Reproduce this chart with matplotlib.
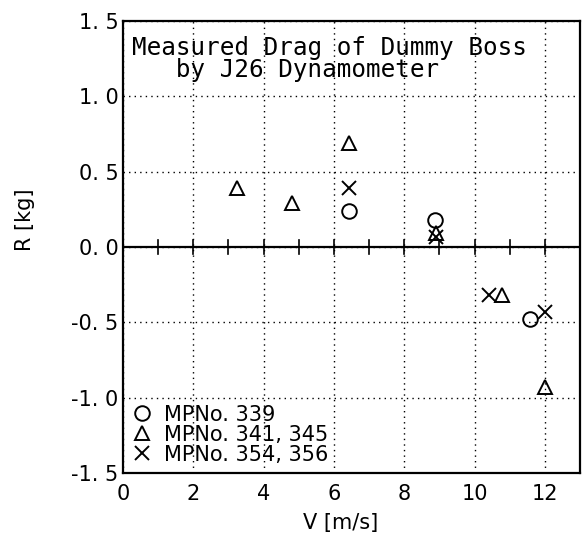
import numpy as np
import matplotlib
matplotlib.use("Agg")
import matplotlib.pyplot as plt

plt.rcParams['font.family'] = ['DejaVu Sans']

# MPNo. 339
v_339 = [6.43, 8.86, 11.57]
r_339 = [0.24, 0.18, -0.48]
# MPNo. 341, 345
v_341 = [3.25, 4.80, 6.43, 8.90, 10.77, 12.00]
r_341 = [0.39, 0.29, 0.69, 0.09, -0.32, -0.93]
# MPNo. 354, 356
v_354 = [6.43, 8.90, 10.40, 12.00]
r_354 = [0.39, 0.07, -0.32, -0.43]

xticks = [0, 2, 4, 6, 8, 10, 12]
yticks = [-1.5, -1.0, -0.5, 0.0, 0.5, 1.0, 1.5]
ylabels = ["-1. 5", "-1. 0", "-0. 5", "0. 0", "0. 5", "1. 0", "1. 5"]

fig = plt.figure(figsize=(5.82, 5.40), dpi=100)
ax = fig.add_axes([0.211, 0.124, 0.786, 0.837])

ax.set_xlim(0, 13)
ax.set_ylim(-1.5, 1.5)
ax.set_xticks(xticks)
ax.set_yticks(yticks)
ax.set_yticklabels(ylabels)
ax.tick_params(labelsize=15, length=0, colors='black')
ax.tick_params(axis='x', pad=8)
ax.tick_params(axis='y', pad=3)
ax.grid(True, color='black', linestyle=(0, (1, 3)), linewidth=1.0)
for s in ax.spines.values():
    s.set_linewidth(1.6)

# zero line with integer ticks
ax.axhline(0, color='black', linewidth=1.6, zorder=2)
for v in range(1, 13):
    ax.plot([v, v], [-0.045, 0.045], color='black', linewidth=1.2, zorder=2)

mk = dict(linestyle='none', color='black', markerfacecolor='none', markersize=10.5, markeredgewidth=1.4)
ax.plot(v_339, r_339, marker='o', label='MPNo. 339', **mk)
ax.plot(v_341, r_341, marker='^', label='MPNo. 341, 345', **mk)
ax.plot(v_354, r_354, marker='x', label='MPNo. 354, 356', **mk)

ax.text(0.26, 1.4, "Measured Drag of Dummy Boss\n   by J26 Dynamometer",
        family='DejaVu Sans Mono', fontsize=17.5, va='top', ha='left', linespacing=0.9)

leg = ax.legend(loc='lower left', frameon=False, fontsize=15, handlelength=1.0,
                handletextpad=0.6, labelspacing=0.0, borderaxespad=0.1,
                borderpad=0.3)

ax.set_xlabel("V [m/s]", fontsize=15, va='center')
ax.set_ylabel("R [kg]", fontsize=15, va='center')
ax.xaxis.set_label_coords(0.477, -0.11)
ax.yaxis.set_label_coords(-0.214, 0.56)

fig.savefig("out.png", dpi=100)
